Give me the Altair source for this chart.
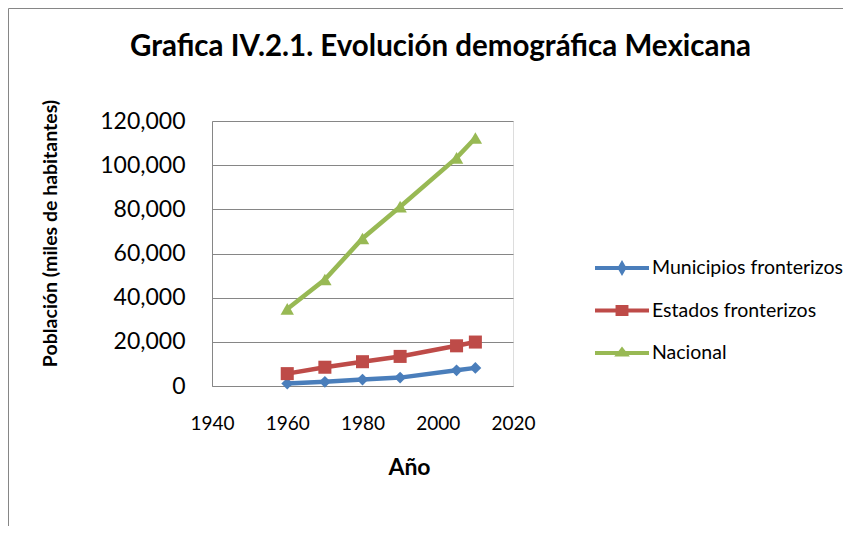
import altair as alt
import pandas as pd

# ---- data ----
years = [1960, 1970, 1980, 1990, 2005, 2010]
municipios = [1100, 1900, 2900, 3800, 7100, 8200]
estados = [5600, 8500, 11000, 13400, 18200, 19900]
nacional = [34900, 48200, 66800, 81200, 103300, 112300]

series = ["Municipios fronterizos", "Estados fronterizos", "Nacional"]
colors = ["#4A7EBB", "#BE4B48", "#98B954"]
marker_shapes = ["diamond", "square", "triangle-up"]
x_ticks = [1940, 1960, 1980, 2000, 2020]
y_ticks = [0, 20000, 40000, 60000, 80000, 100000, 120000]

rows = []
for name, vals in zip(series, [municipios, estados, nacional]):
    for yr, v in zip(years, vals):
        rows.append({"Año": yr, "Serie": name, "Poblacion": v})
df = pd.DataFrame(rows)

FONT = "Lato"
GRID = "#868686"
W, H = 301, 265

# legend symbols: line segment + marker (custom paths in unit space)
legend_paths = [
    "M-2,0L2,0M-0.17,0L0,-0.3L0.17,0L0,0.3Z",
    "M-2,0L2,0M-0.33,-0.26L0.33,-0.26L0.33,0.26L-0.33,0.26Z",
    "M-2,0L2,0M-0.28,0.12L0,-0.24L0.28,0.12Z",
]

x_enc = alt.X(
    "Año:Q",
    scale=alt.Scale(domain=[1940, 2020], nice=False, zero=False),
    axis=alt.Axis(
        values=x_ticks, format="d", title="Año", grid=False,
        ticks=False, tickSize=0, domainColor=GRID, domainWidth=1,
        labelFont=FONT, labelFontSize=19, labelColor="black",
        labelPadding=37, labelBaseline="middle", labelFlush=False,
        labelOverlap=False,
        titleFont=FONT, titleFontSize=23, titleFontWeight="bold",
        titleColor="black", titleX=197, titleY=81, titleBaseline="middle",
    ),
)
y_enc = alt.Y(
    "Poblacion:Q",
    scale=alt.Scale(domain=[0, 120000], nice=False),
    axis=alt.Axis(
        values=y_ticks, format=",d", title="Población (miles de habitantes)",
        grid=True, gridColor=GRID, gridWidth=1,
        ticks=False, tickSize=0, domainColor=GRID, domainWidth=1,
        labelFont=FONT, labelFontSize=23, labelColor="black",
        labelPadding=27, labelFlush=False, labelOverlap=False,
        titleFont=FONT, titleFontSize=19.5, titleFontWeight="bold",
        titleColor="black", titleAngle=270, titleX=-162, titleY=112,
        titleBaseline="middle", titleAlign="center",
    ),
)

base = alt.Chart(df)

line_layers = []
marker_layers = []
for s, c, shp, sz in zip(series, colors, marker_shapes, [140, 170, 180]):
    sub = base.transform_filter(alt.datum.Serie == s)
    line_layers.append(
        sub.mark_line(strokeWidth=4.5, color=c).encode(x=x_enc, y=y_enc)
    )
    marker_layers.append(
        sub.mark_point(shape=shp, filled=True, size=sz, opacity=1, color=c)
        .encode(x=x_enc, y=y_enc)
    )

leg = alt.Legend(
    title=None, orient="none", legendX=394.5, legendY=131.5,
    direction="vertical", padding=0, rowPadding=14.5,
    symbolSize=729, symbolStrokeWidth=4, symbolOpacity=1,
    labelFont=FONT, labelFontSize=19.5, labelColor="black",
    labelOffset=14.5, labelLimit=400,
)
legend_layer = base.mark_point(filled=True, opacity=0).encode(
    x=x_enc, y=y_enc,
    fill=alt.Fill("Serie:N", scale=alt.Scale(domain=series, range=colors), legend=leg),
    stroke=alt.Stroke("Serie:N", scale=alt.Scale(domain=series, range=colors), legend=leg),
    shape=alt.Shape("Serie:N", scale=alt.Scale(domain=series, range=legend_paths), legend=leg),
)

frame_df = pd.DataFrame({"k": [0]})
frame_left = alt.Chart(frame_df).mark_rule(color=GRID, strokeWidth=1).encode(
    x=alt.value(-203.5), y=alt.value(-112.5), y2=alt.value(H + 140)
)
frame_top = alt.Chart(frame_df).mark_rule(color=GRID, strokeWidth=1).encode(
    x=alt.value(-203.5), x2=alt.value(W + 330), y=alt.value(-112.5)
)

chart = alt.layer(
    frame_left, frame_top, legend_layer, *line_layers, *marker_layers
).properties(
    width=W, height=H,
    title=alt.TitleParams(
        text="Grafica IV.2.1. Evolución demográfica Mexicana",
        font=FONT, fontSize=29.5, fontWeight="bold", color="black",
        anchor="middle", frame="group", dx=78, offset=-77,
        baseline="alphabetic",
    ),
    autosize=alt.AutoSizeParams(type="none"),
    padding={"left": 204, "top": 113, "right": 330, "bottom": 140},
).configure_view(stroke=None).configure(font=FONT)

chart.save("out.html", embed_options={"renderer": "svg", "actions": False})
